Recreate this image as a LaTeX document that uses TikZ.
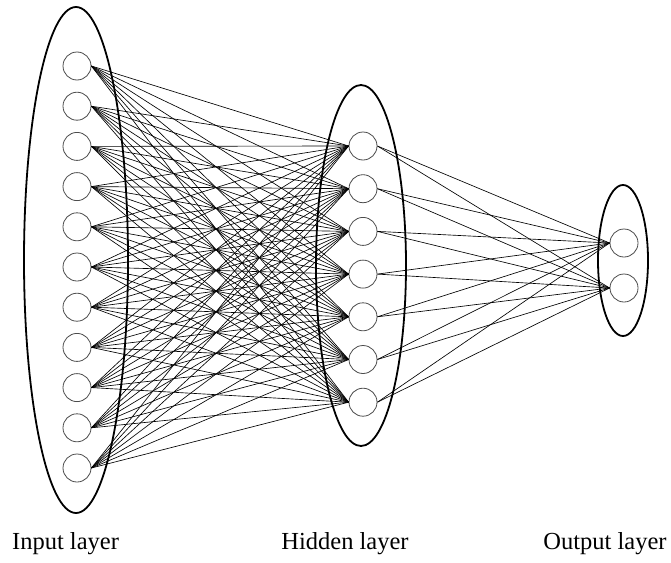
\documentclass[tikz,border=0pt]{standalone}
\usepackage{fontspec}
\setmainfont{Liberation Serif}
\usetikzlibrary{shapes.geometric}
\begin{document}
\begin{tikzpicture}[x=1pt,y=-1pt,
  neuron/.style={circle,draw=black!70,fill=white,line width=0.8pt,minimum size=28pt,inner sep=0pt},
  layerbox/.style={ellipse,draw=black,line width=1.8pt,inner sep=0pt},
  conn/.style={draw=black,line width=0.65pt},
  lab/.style={anchor=base,font=\fontsize{24.5}{28}\selectfont,inner sep=0pt}]
\useasboundingbox (0,0) rectangle (671,562);
% layer ellipses
\node[layerbox,minimum width=104pt,minimum height=506pt] (LI) at (76,260) {};
\node[layerbox,minimum width=90pt,minimum height=361pt] (LH) at (361,265.5) {};
\node[layerbox,minimum width=50pt,minimum height=151pt] (LO) at (623,260.5) {};
% neurons
\foreach \i in {1,...,11} {
  \node[neuron] (I\i) at (77,{66+(\i-1)*40.2}) {};
}
\foreach \j in {1,...,7} {
  \node[neuron] (H\j) at (363,{146+(\j-1)*42.7}) {};
}
\node[neuron] (O1) at (624,243) {};
\node[neuron] (O2) at (624,288) {};
% connections
\foreach \i in {1,...,11} {
  \foreach \j in {1,...,7} {
    \draw[conn] (I\i.east) -- (H\j.west);
  }
}
\foreach \j in {1,...,7} {
  \foreach \k in {1,2} {
    \draw[conn] (H\j.east) -- (O\k.west);
  }
}
% labels
\node[lab] (tI) at (65.5,549) {Input layer};
\node[lab] (tH) at (345,549) {Hidden layer};
\node[lab] (tO) at (605,549) {Output layer};
\end{tikzpicture}
\end{document}
